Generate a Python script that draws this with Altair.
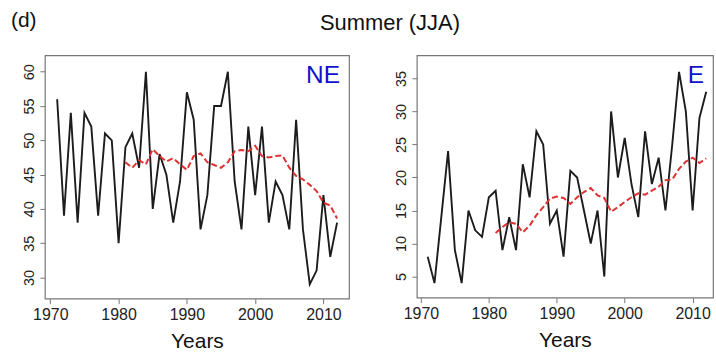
import altair as alt
import pandas as pd

# ---- data ----
years = list(range(1971, 2013))
ne_values = [56, 39, 54, 38, 54, 52, 39, 51, 50, 35,
             49, 51, 46, 60, 40, 48, 45, 38, 44, 57,
             53, 37, 42, 55, 55, 60, 44, 37, 52, 42,
             52, 38, 44, 42, 37, 53, 37, 29, 31, 42,
             33, 38]
e_values = [8, 4, 14, 24, 9, 4, 15, 12, 11, 17,
            18, 9, 14, 9, 22, 17, 27, 25, 13, 15,
            8, 21, 20, 15, 10, 15, 5, 30, 20, 26,
            19, 14, 27, 19, 23, 15, 25, 36, 30, 15,
            29, 33]
trend_years = list(range(1981, 2013))
ne_trend = [46.8, 46.0, 47.1, 46.5, 48.7, 47.7, 46.9, 47.4, 46.5, 45.7,
            47.7, 48.1, 46.8, 46.4, 46.0, 46.8, 48.4, 48.6, 48.4, 49.2,
            47.7, 47.5, 47.7, 47.8, 46.0, 44.8, 44.3, 43.5, 42.6, 40.9,
            40.5, 38.6]
e_trend = [11.6, 12.5, 13.2, 13.0, 11.7, 12.7, 14.3, 15.5, 16.8, 17.1,
           16.9, 16.0, 17.0, 17.8, 18.4, 17.3, 16.9, 14.8, 15.5, 16.3,
           17.0, 17.6, 17.4, 18.0, 18.6, 19.6, 19.7, 21.3, 22.4, 23.0,
           22.2, 22.9]
x_ticks = [1970, 1980, 1990, 2000, 2010]
ne_ticks = [30, 35, 40, 45, 50, 55, 60]
e_ticks = [5, 10, 15, 20, 25, 30, 35]

FONT = "Liberation Sans"


def panel(values, trend, ydomain, yticks, xdomain, label, w, h, label_x,
          extra_texts):
    df = pd.DataFrame({"year": years, "value": values})
    dft = pd.DataFrame({"year": trend_years, "value": trend})
    xs = alt.Scale(domain=xdomain, nice=False, zero=False)
    ys = alt.Scale(domain=ydomain, nice=False, zero=False)
    xax = alt.Axis(values=x_ticks, format="d", title="Years", grid=False,
                   domain=False, tickSize=5, tickColor="#777",
                   labelFontSize=16, labelPadding=3, labelColor="#222",
                   titleFontSize=21, titleFontWeight="normal",
                   titleColor="#111", titlePadding=8, labelFont=FONT,
                   titleFont=FONT)
    yax = alt.Axis(values=yticks, title=None, grid=False, domain=False,
                   tickSize=5, tickColor="#777", labelAngle=270,
                   labelFontSize=14.5, labelPadding=3, labelColor="#222",
                   labelFont=FONT)
    base = alt.Chart(df).mark_line(color="#1c1c1c", strokeWidth=1.9,
                                   clip=True).encode(
        x=alt.X("year:Q", scale=xs, axis=xax),
        y=alt.Y("value:Q", scale=ys, axis=yax),
    )
    tr = alt.Chart(dft).mark_line(color="#e03232", strokeWidth=2,
                                  strokeDash=[6, 3], clip=True).encode(
        x=alt.X("year:Q", scale=xs),
        y=alt.Y("value:Q", scale=ys),
    )
    lab = alt.Chart(pd.DataFrame({"t": [label]})).mark_text(
        color="#1111cc", fontSize=24.5, font=FONT, align="right",
        baseline="alphabetic").encode(
        text="t:N", x=alt.value(label_x), y=alt.value(28))
    layers = [base, tr, lab] + extra_texts
    return alt.layer(*layers).properties(width=w, height=h)


d_text = alt.Chart(pd.DataFrame({"t": ["(d)"]})).mark_text(
    fontSize=21, font=FONT, align="left", baseline="middle",
    color="#111").encode(text="t:N", x=alt.value(-34), y=alt.value(-34))
title_text = alt.Chart(pd.DataFrame({"t": ["Summer (JJA)"]})).mark_text(
    fontSize=22, font=FONT, align="center", baseline="middle",
    color="#111").encode(text="t:N", x=alt.value(346), y=alt.value(-32))

left = panel(ne_values, ne_trend, [26.9, 62.4], ne_ticks, [1969.2, 2013.75],
             "NE", 305, 244, 296, [d_text, title_text])
right = panel(e_values, e_trend, [1.8, 38.5], e_ticks, [1969.4, 2013.0],
              "E", 297, 243, 288, [])

chart = alt.hconcat(left, right, spacing=68, bounds="flush").properties(
    padding={"left": 10, "top": 9, "right": 2, "bottom": 0},
    background="white",
).configure_view(stroke="#777", strokeWidth=1.2).configure_axis(
    labelFont=FONT, titleFont=FONT)

chart.save("out.html", embed_options={"renderer": "svg", "actions": False})
